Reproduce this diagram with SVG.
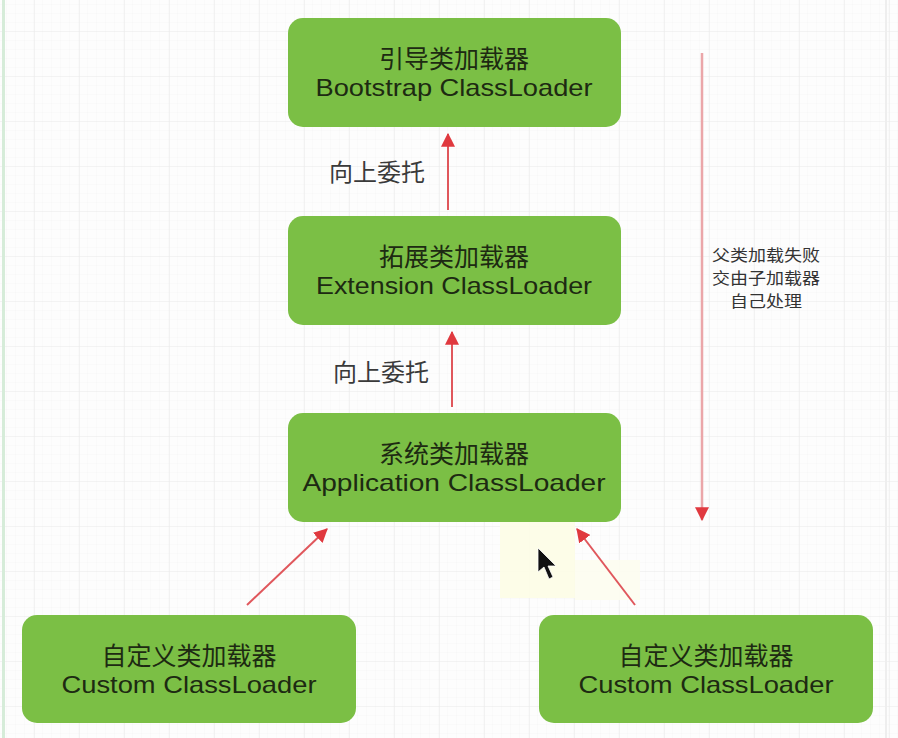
<svg xmlns="http://www.w3.org/2000/svg" width="898" height="738" viewBox="0 0 898 738">
<defs>
<pattern id="minor" width="9" height="9" patternUnits="userSpaceOnUse" x="-2" y="5">
<path d="M9 0V9M0 9H9" fill="none" stroke="#f6f6f6" stroke-width="1"/>
</pattern>
<pattern id="major" width="45" height="45" patternUnits="userSpaceOnUse" x="-10" y="-13">
<path d="M45 0V45M0 45H45" fill="none" stroke="#ebebeb" stroke-width="1.2"/>
</pattern>
<marker id="head" viewBox="0 0 12 12" refX="11" refY="6" markerWidth="14" markerHeight="14" orient="auto" markerUnits="userSpaceOnUse">
<path d="M0 0L12 6L0 12Z" fill="#e0393f"/>
</marker>
<style>
.box{fill:#7bbf45;}
.cn{font-family:"Noto Sans CJK SC","Noto Sans",sans-serif;font-size:25px;fill:#1d2a12;text-anchor:middle;}
.en{font-family:"Liberation Sans",Arial,sans-serif;font-size:24px;fill:#1d2a12;text-anchor:middle;}
.lbl{font-family:"Noto Sans CJK SC",sans-serif;font-size:24px;fill:#3a3a3a;text-anchor:middle;}
.side{font-family:"Noto Sans CJK SC",sans-serif;font-size:15.5px;fill:#333;text-anchor:middle;}
.arr{stroke:#e0575c;stroke-width:2;fill:none;marker-end:url(#head);}
</style>
</defs>
<rect width="898" height="738" fill="#fdfdfd"/>
<rect width="898" height="738" fill="url(#minor)"/>
<rect width="898" height="738" fill="url(#major)"/>
<rect x="2" y="0" width="3" height="738" fill="#d6ecd9"/>
<rect x="885" y="0" width="2" height="738" fill="#eeeeee"/>

<!-- highlight artifact -->
<rect x="500" y="508" width="75" height="90" fill="#fdfde6" opacity="0.9"/>
<rect x="575" y="560" width="65" height="40" fill="#fdfdf0" opacity="0.9"/>

<g id="bootstrap">
<rect class="box" x="288" y="18" width="333" height="109" rx="15"/>
<text class="cn" x="454" y="68">引导类加载器</text>
<text class="en" x="454" y="96" textLength="277" lengthAdjust="spacingAndGlyphs">Bootstrap ClassLoader</text>
</g>
<g id="extension">
<rect class="box" x="288" y="216" width="333" height="109" rx="15"/>
<text class="cn" x="454" y="266">拓展类加载器</text>
<text class="en" x="454" y="294" textLength="276" lengthAdjust="spacingAndGlyphs">Extension ClassLoader</text>
</g>
<g id="application">
<rect class="box" x="288" y="413" width="333" height="109" rx="15"/>
<text class="cn" x="454" y="463">系统类加载器</text>
<text class="en" x="454" y="491" textLength="303" lengthAdjust="spacingAndGlyphs">Application ClassLoader</text>
</g>
<g id="custom1">
<rect class="box" x="22" y="615" width="334" height="108" rx="15"/>
<text class="cn" x="189" y="665">自定义类加载器</text>
<text class="en" x="189" y="693" textLength="255" lengthAdjust="spacingAndGlyphs">Custom ClassLoader</text>
</g>
<g id="custom2">
<rect class="box" x="539" y="615" width="334" height="108" rx="15"/>
<text class="cn" x="706" y="665">自定义类加载器</text>
<text class="en" x="706" y="693" textLength="255" lengthAdjust="spacingAndGlyphs">Custom ClassLoader</text>
</g>

<g id="connectors">
<line class="arr" x1="448" y1="210" x2="448" y2="134"/>
<line class="arr" x1="452" y1="407" x2="452" y2="332"/>
<line class="arr" x1="247" y1="605" x2="327" y2="529"/>
<line class="arr" x1="635" y1="605" x2="577" y2="529"/>
<line x1="702" y1="53" x2="702" y2="520" stroke="#eba6a9" stroke-width="2.5" marker-end="url(#head)"/>
</g>

<g id="labels">
<text class="lbl" x="377" y="181">向上委托</text>
<text class="lbl" x="381" y="381">向上委托</text>
<text class="side" x="766" y="261" textLength="108" lengthAdjust="spacingAndGlyphs">父类加载失败</text>
<text class="side" x="766" y="284" textLength="108" lengthAdjust="spacingAndGlyphs">交由子加载器</text>
<text class="side" x="766" y="307" textLength="72" lengthAdjust="spacingAndGlyphs">自己处理</text>
</g>

<!-- mouse cursor -->
<path d="M538 548L538 572L544 567L549 579L553 577L548 566L556 566Z" fill="#111" stroke="#fff" stroke-width="0.8"/>
</svg>
